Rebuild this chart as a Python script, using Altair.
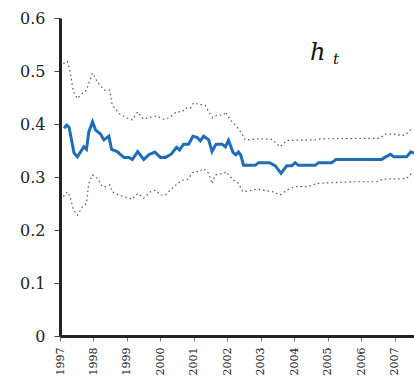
import altair as alt
import pandas as pd

# Central estimate of h_t (decimal year, value)
mid_year = [1997.12, 1997.20, 1997.27, 1997.42, 1997.52, 1997.71, 1997.79, 1997.86, 1997.97,
            1998.06, 1998.21, 1998.31, 1998.46, 1998.54, 1998.71, 1998.81, 1998.91,
            1999.06, 1999.16, 1999.32, 1999.50, 1999.65, 1999.83,
            2000.00, 2000.15, 2000.32, 2000.48, 2000.57, 2000.69, 2000.84, 2000.97,
            2001.09, 2001.19, 2001.29, 2001.44, 2001.54, 2001.66, 2001.84, 2001.94,
            2002.03, 2002.17, 2002.25, 2002.33, 2002.40, 2002.48, 2002.83, 2002.93,
            2003.26, 2003.43, 2003.60, 2003.77, 2003.92, 2004.02, 2004.12, 2004.62,
            2004.72, 2005.11, 2005.24, 2006.60, 2006.70, 2006.87, 2006.97, 2007.35,
            2007.47, 2007.57]
mid_val = [0.392, 0.398, 0.394, 0.345, 0.338, 0.357, 0.352, 0.385, 0.404,
           0.389, 0.381, 0.370, 0.377, 0.352, 0.348, 0.342, 0.337,
           0.337, 0.333, 0.348, 0.333, 0.342, 0.347,
           0.337, 0.337, 0.343, 0.356, 0.351, 0.362, 0.362, 0.377,
           0.375, 0.368, 0.377, 0.370, 0.348, 0.362, 0.362, 0.357,
           0.369, 0.346, 0.342, 0.347, 0.341, 0.322, 0.322, 0.327,
           0.327, 0.321, 0.307, 0.321, 0.321, 0.327, 0.322, 0.322,
           0.327, 0.327, 0.333, 0.333, 0.337, 0.343, 0.338, 0.338,
           0.347, 0.345]

# Upper band
up_year = [1997.10, 1997.22, 1997.30, 1997.40, 1997.52, 1997.67, 1997.79, 1997.97,
           1998.11, 1998.31, 1998.48, 1998.56, 1998.76, 1999.01, 1999.16, 1999.32,
           1999.50, 1999.70, 1999.88, 2000.10, 2000.30, 2000.48, 2000.65, 2000.74,
           2000.89, 2000.99, 2001.14, 2001.34, 2001.44, 2001.56, 2001.69, 2001.89,
           2001.94, 2002.08, 2002.28, 2002.43, 2002.53, 2002.93, 2003.33, 2003.57,
           2003.77, 2004.62, 2004.77, 2006.55, 2006.70, 2007.05, 2007.20, 2007.35,
           2007.45, 2007.57]
up_val = [0.514, 0.518, 0.499, 0.461, 0.448, 0.458, 0.464, 0.496,
          0.480, 0.464, 0.464, 0.436, 0.420, 0.411, 0.408, 0.423,
          0.409, 0.413, 0.415, 0.409, 0.413, 0.423, 0.423, 0.430,
          0.430, 0.440, 0.437, 0.435, 0.423, 0.412, 0.417, 0.417,
          0.423, 0.408, 0.395, 0.382, 0.370, 0.372, 0.371, 0.357,
          0.369, 0.370, 0.372, 0.373, 0.381, 0.381, 0.378, 0.381,
          0.389, 0.389]

# Lower band
lo_year = [1997.10, 1997.22, 1997.30, 1997.40, 1997.52, 1997.67, 1997.79, 1997.86,
           1997.97, 1998.11, 1998.26, 1998.41, 1998.49, 1998.56, 1998.76, 1998.96,
           1999.16, 1999.32, 1999.50, 1999.70, 1999.85, 2000.00, 2000.15, 2000.35,
           2000.50, 2000.65, 2000.80, 2000.99, 2001.14, 2001.29, 2001.44, 2001.54,
           2001.64, 2001.89, 2001.97, 2002.03, 2002.18, 2002.33, 2002.46, 2002.88,
           2003.37, 2003.57, 2003.77, 2004.02, 2004.41, 2004.67, 2005.76, 2006.45,
           2006.65, 2007.35, 2007.50, 2007.57]
lo_val = [0.263, 0.272, 0.263, 0.238, 0.228, 0.244, 0.250, 0.288,
          0.304, 0.298, 0.282, 0.282, 0.285, 0.272, 0.266, 0.262,
          0.258, 0.269, 0.260, 0.272, 0.275, 0.266, 0.266, 0.279,
          0.287, 0.294, 0.295, 0.310, 0.310, 0.316, 0.307, 0.287,
          0.304, 0.307, 0.310, 0.304, 0.294, 0.288, 0.272, 0.277,
          0.272, 0.266, 0.275, 0.282, 0.282, 0.288, 0.291, 0.291,
          0.296, 0.297, 0.307, 0.307]

year_ticks = list(range(1997, 2008))
y_ticks = [0, 0.1, 0.2, 0.3, 0.4, 0.5, 0.6]

mid = pd.DataFrame({"year": mid_year, "v": mid_val})
bands = pd.concat([
    pd.DataFrame({"year": up_year, "v": up_val, "band": "upper"}),
    pd.DataFrame({"year": lo_year, "v": lo_val, "band": "lower"}),
])

FONT = "DejaVu Serif"

x_enc = alt.X(
    "year:Q",
    scale=alt.Scale(domain=[1997, 2007.57], nice=False, zero=False),
    axis=alt.Axis(
        values=year_ticks, format="d", labelAngle=270, labelAlign="right",
        labelBaseline="middle", labelOverlap=False, labelFlush=False, title=None,
    ),
)
y_enc = alt.Y(
    "v:Q",
    scale=alt.Scale(domain=[0, 0.6], nice=False),
    axis=alt.Axis(values=y_ticks, format="~g", title=None),
)

band_lines = alt.Chart(bands).mark_line(
    color="#555", strokeWidth=1.2, strokeDash=[1.5, 3], clip=True
).encode(x=x_enc, y=y_enc, detail="band:N")

main_line = alt.Chart(mid).mark_line(
    color="#1f6db5", strokeWidth=3, clip=True
).encode(x=x_enc, y=y_enc)

label_h = alt.Chart(pd.DataFrame({"t": ["h"]})).mark_text(
    fontStyle="italic", fontSize=24, color="#111", align="left",
    baseline="alphabetic",
).encode(x=alt.value(250), y=alt.value(42), text="t:N")

label_t = alt.Chart(pd.DataFrame({"t": ["t"]})).mark_text(
    fontStyle="italic", fontSize=15, color="#111", align="left",
    baseline="alphabetic",
).encode(x=alt.value(273), y=alt.value(46), text="t:N")

chart = (
    alt.layer(band_lines, main_line, label_h, label_t)
    .properties(
        width=354, height=318,
        autosize=alt.AutoSizeParams(type="none"),
        padding={"left": 60, "top": 18, "right": 0, "bottom": 42},
    )
    .configure(background="white", font=FONT)
    .configure_view(stroke=None)
    .configure_text(font=FONT)
    .configure_axisX(
        labelFont=FONT, labelFontSize=11, labelColor="#222", labelPadding=6,
        tickColor="#777", tickSize=5, tickWidth=1,
        domainColor="#222", domainWidth=3, grid=False,
    )
    .configure_axisY(
        labelFont=FONT, labelFontSize=16, labelColor="#222", labelPadding=9,
        tickColor="#444", tickSize=6, tickWidth=1,
        domainColor="#222", domainWidth=3, grid=False,
    )
)

chart.save("out.html", embed_options={"renderer": "svg", "actions": False})
